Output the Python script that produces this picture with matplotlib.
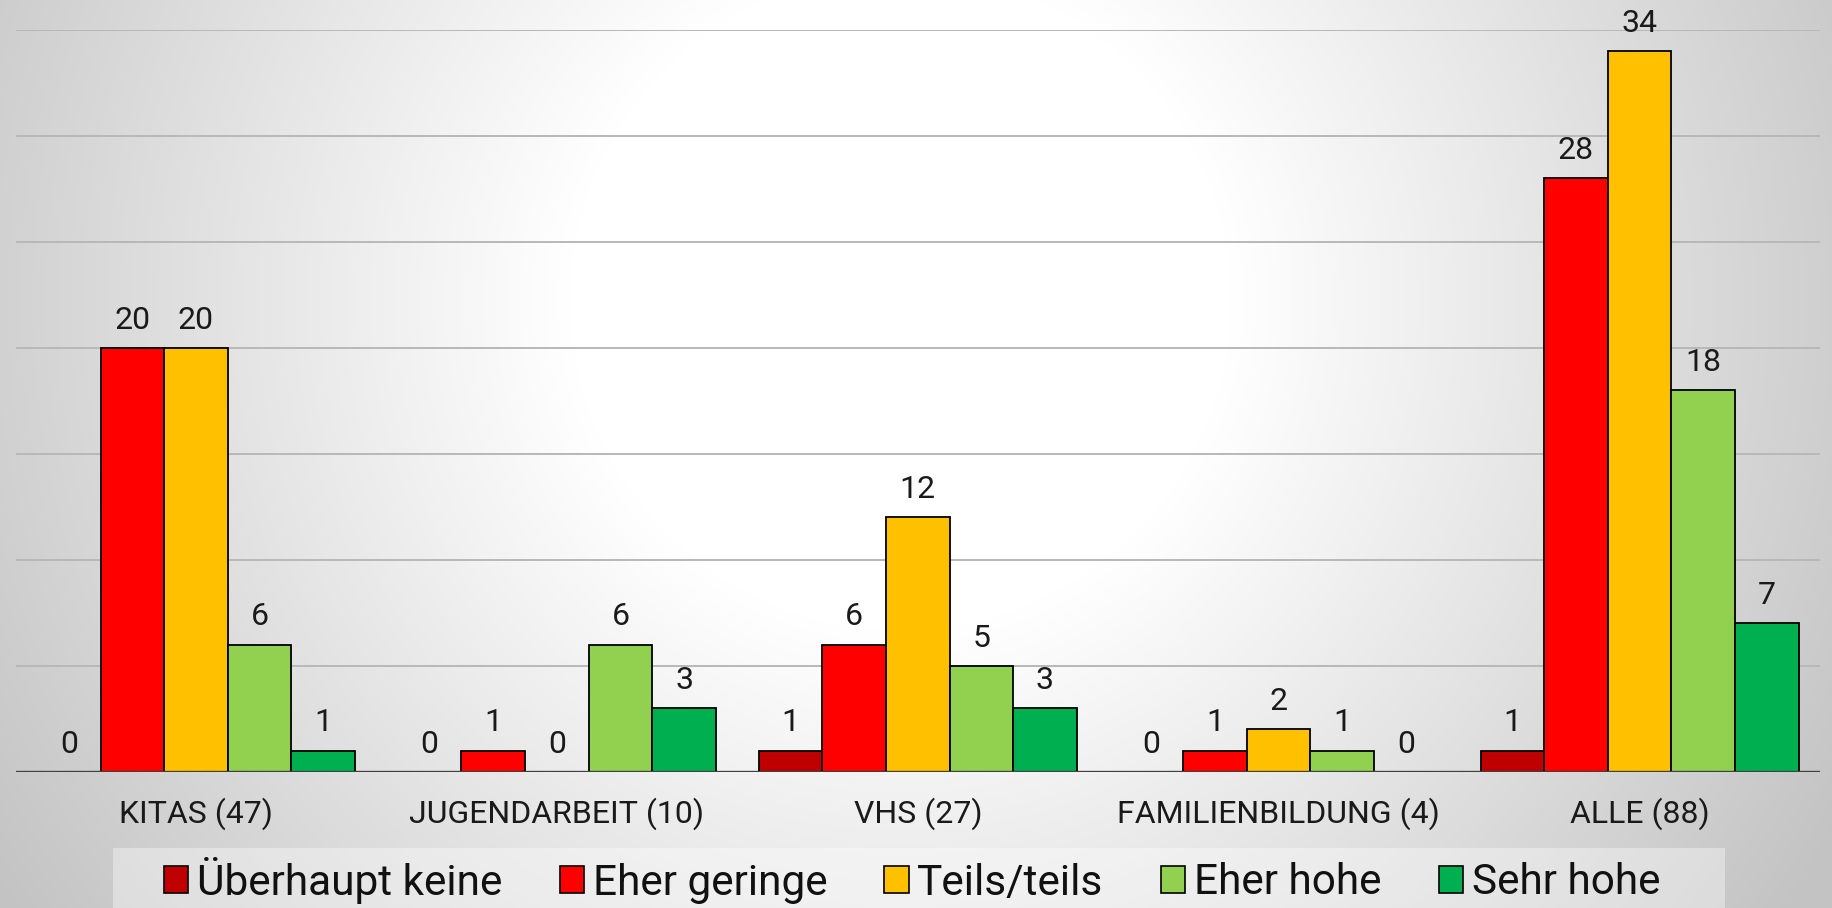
import numpy as np
import matplotlib
matplotlib.use("Agg")
import matplotlib.pyplot as plt
from matplotlib.patches import Patch, Rectangle

# data
categories = ["KITAS (47)", "JUGENDARBEIT (10)", "VHS (27)", "FAMILIENBILDUNG (4)", "ALLE (88)"]
series_names = ["Überhaupt keine", "Eher geringe", "Teils/teils", "Eher hohe", "Sehr hohe"]
ueberhaupt_keine = [0, 0, 1, 0, 1]
eher_geringe = [20, 1, 6, 1, 28]
teils_teils = [20, 0, 12, 2, 34]
eher_hohe = [6, 6, 5, 1, 18]
sehr_hohe = [1, 3, 3, 0, 7]
series_values = [ueberhaupt_keine, eher_geringe, teils_teils, eher_hohe, sehr_hohe]
colors = ["#C00000", "#FF0000", "#FFC000", "#92D050", "#00B050"]

W, H = 1832, 908
fig = plt.figure(figsize=(W / 100, H / 100), dpi=100)

# radial grey-to-white background
bg = fig.add_axes([0, 0, 1, 1], zorder=-10)
yy, xx = np.mgrid[0:H, 0:W]
r = np.hypot(xx - 900, yy - 300)
v = np.clip(255 - 0.08 * (r - 330), 195, 255) / 255.0
bg.imshow(np.dstack([v, v, v]), extent=(0, W, H, 0), aspect="auto")
bg.set_axis_off()

# legend backdrop
fig.patches.append(Rectangle((112.7 / W, 0), (1725 - 112.7) / W, 60 / H,
                             transform=fig.transFigure, facecolor="white",
                             alpha=0.37, edgecolor="none", zorder=-5))

ax = fig.add_axes([15.5 / W, (H - 771.7) / H, (1820 - 15.5) / W, (771.7 - 29.7) / H])
ax.patch.set_alpha(0)

x = np.arange(len(categories))
width = 0.1762
for i, (name, vals, col) in enumerate(zip(series_names, series_values, colors)):
    pos = x + (i - 2) * width
    ax.bar(pos, vals, width, color=col, edgecolor="black", linewidth=1.3, zorder=2, label=name)
    for px, val in zip(pos, vals):
        ax.annotate(str(val), xy=(px, val), xytext=(0, 13.7), textcoords="offset points",
                    ha="center", va="baseline", fontsize=23, family="Roboto",
                    color="#1a1a1a", annotation_clip=False)

ax.set_xlim(-0.5, len(categories) - 0.5)
ax.set_ylim(0, 35)
ax.set_yticks(np.arange(5, 36, 5))
ax.yaxis.grid(True, color="#b8b8b8", linewidth=1.4)
ax.set_axisbelow(True)
ax.axhline(0, color="#404040", linewidth=2.4, zorder=4)
for s in ax.spines.values():
    s.set_visible(False)
ax.tick_params(left=False, bottom=False, labelleft=False, labelbottom=False)

for xi, cat in zip(x, categories):
    ax.annotate(cat, xy=(xi, 0), xycoords=("data", "axes fraction"), xytext=(0, -36.7),
                textcoords="offset points", ha="center", va="baseline",
                fontsize=23, family="Roboto", color="#1a1a1a", annotation_clip=False)

handles = [Patch(facecolor=c, edgecolor="black", linewidth=1.2) for c in colors]
fig.legend(handles, series_names, loc="center", bbox_to_anchor=(912 / W, 28 / H),
           ncol=5, frameon=False, prop={"family": "Roboto", "size": 30.5},
           labelcolor="#111111",
           handlelength=0.57, handleheight=0.57, handletextpad=0.21,
           columnspacing=1.35, borderpad=0, borderaxespad=0)

fig.savefig("out.png", dpi=100)
